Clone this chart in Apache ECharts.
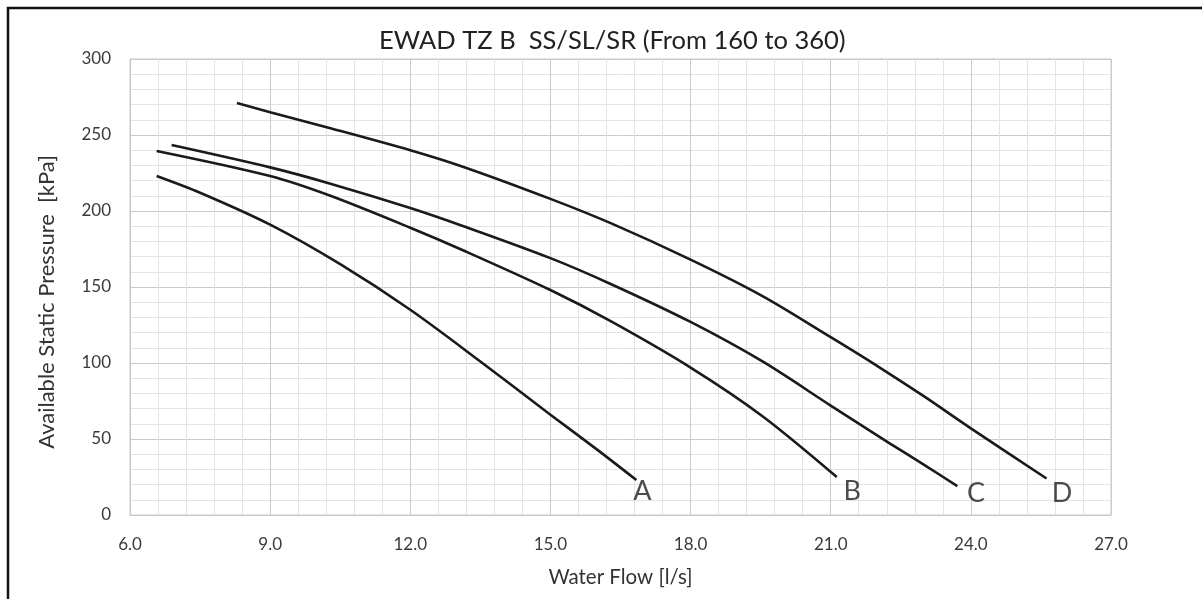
<!DOCTYPE html>
<html>
<head>
<meta charset="utf-8">
<script src="https://cdn.jsdelivr.net/npm/echarts@6/dist/echarts.min.js"></script>
<style>
html,body{margin:0;padding:0;background:#fff;}
#chart{width:1202px;height:599px;}
</style>
</head>
<body>
<div id="chart"></div>
<script>
// ---- data ----
const titleText = 'EWAD TZ B  SS/SL/SR (From 160 to 360)';
const xAxisName = 'Water Flow [l/s]';
const yAxisName = 'Available Static Pressure  [kPa]';

const curveA_x = [6.57, 7.5, 9.0, 10.5, 12.0, 13.5, 15.0, 16.0, 16.84];
const curveA_y = [223, 212, 191, 165, 135, 101, 66, 43, 23];

const curveB_x = [6.57, 9.0, 10.29, 12.0, 13.14, 15.0, 16.29, 18.0, 19.54, 21.13];
const curveB_y = [239.5, 223, 210, 189, 174, 148, 127.5, 97, 65, 25];

const curveC_x = [6.89, 9.0, 10.29, 12.0, 13.14, 15.0, 16.29, 18.0, 19.54, 21.0, 22.27, 23.0, 23.71];
const curveC_y = [243.4, 228.7, 218, 202, 190, 169, 152, 127, 101, 72, 47, 33, 19];

const curveD_x = [8.29, 9.0, 10.29, 12.0, 13.14, 15.0, 16.29, 18.0, 19.54, 21.0, 22.0, 23.0, 24.0, 25.62];
const curveD_y = [271, 265, 254.5, 240, 229, 208, 192, 168, 144, 117, 98, 78, 57, 24];

const curveNames = ['A', 'B', 'C', 'D'];
const labelX = [16.97, 21.46, 24.11, 25.95];
const labelY = [15.3, 15.3, 14.3, 14.3];

const xMin = 6, xMax = 27, xStep = 3;
const yMin = 0, yMax = 300, yStep = 50;

// ---- build ----
const zip = (xs, ys) => xs.map((x, i) => [x, ys[i]]);
const curves = [zip(curveA_x, curveA_y), zip(curveB_x, curveB_y), zip(curveC_x, curveC_y), zip(curveD_x, curveD_y)];

const FONT = 'Lato, "Open Sans", sans-serif';
const chart = echarts.init(document.getElementById('chart'), null, {renderer: 'canvas'});

const series = curves.map((d, i) => ({
  name: curveNames[i],
  type: 'line',
  data: d,
  smooth: 0.3,
  showSymbol: false,
  symbol: 'none',
  lineStyle: {color: '#1a1a1a', width: 2.6},
  z: 3
}));
series.push({
  name: 'labels',
  type: 'scatter',
  symbolSize: 0,
  data: labelX.map((x, i) => [x, labelY[i], curveNames[i]]),
  label: {
    show: true,
    position: 'inside',
    formatter: p => p.data[2],
    fontFamily: FONT,
    fontSize: 27,
    color: '#1f1f1f'
  },
  z: 4
});

chart.setOption({
  animation: false,
  backgroundColor: '#ffffff',
  title: {
    text: titleText,
    left: 374,
    top: 23,
    textStyle: {fontFamily: FONT, fontSize: 25.5, fontWeight: 'normal', color: '#222222'}
  },
  grid: {left: 130, right: 91, top: 59, bottom: 84, containLabel: false,
         show: true, borderColor: '#c8c8c8', borderWidth: 1},
  xAxis: {
    type: 'value',
    min: xMin, max: xMax, interval: xStep,
    name: xAxisName,
    nameLocation: 'middle',
    nameGap: 52,
    nameTextStyle: {fontFamily: FONT, fontSize: 20.5, color: '#333333'},
    axisLine: {show: true, lineStyle: {color: '#c8c8c8', width: 1}},
    axisTick: {show: false},
    axisLabel: {fontFamily: FONT, fontSize: 17, color: '#3a3a3a', margin: 21,
                formatter: v => v.toFixed(1)},
    splitLine: {show: true, lineStyle: {color: '#cbcbcb', width: 1}},
    minorTick: {show: false, splitNumber: 5},
    minorSplitLine: {show: true, lineStyle: {color: '#e4e4e4', width: 1}}
  },
  yAxis: {
    type: 'value',
    min: yMin, max: yMax, interval: yStep,
    name: yAxisName,
    nameLocation: 'middle',
    nameGap: 72,
    nameTextStyle: {fontFamily: FONT, fontSize: 22, color: '#333333', padding: [0, 30, 0, 0]},
    axisLine: {show: true, lineStyle: {color: '#c8c8c8', width: 1}},
    axisTick: {show: false},
    axisLabel: {fontFamily: FONT, fontSize: 17, color: '#3a3a3a', margin: 19},
    splitLine: {show: true, lineStyle: {color: '#cbcbcb', width: 1}},
    minorTick: {show: false, splitNumber: 5},
    minorSplitLine: {show: true, lineStyle: {color: '#e4e4e4', width: 1}}
  },
  graphic: [{
    type: 'rect',
    shape: {x: 8, y: 8, width: 1210, height: 610},
    style: {fill: 'none', stroke: '#111111', lineWidth: 2.5},
    silent: true,
    z: 100
  }],
  series: series
});
</script>
</body>
</html>
